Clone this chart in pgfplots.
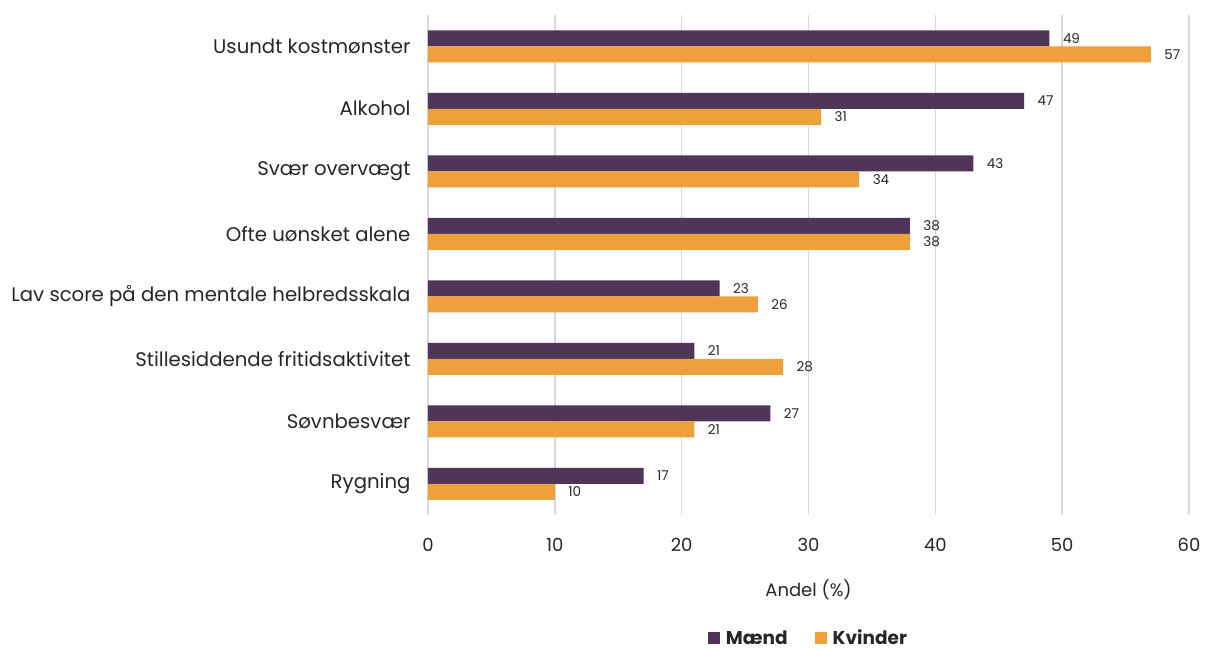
\documentclass[border=0pt]{standalone}
\usepackage{pgfplots}
\pgfplotsset{compat=1.18}
\usepackage{fontspec}
\setmainfont{Poppins}
\definecolor{maend}{HTML}{4E3559}
\definecolor{kvinder}{HTML}{EFA03A}
\definecolor{gridc}{HTML}{D9D9D9}
\definecolor{txt}{HTML}{262626}
\begin{document}
\begin{tikzpicture}
\begin{axis}[
  name=ax,
  at={(0,0)}, anchor=south west,
  scale only axis,
  width=761bp, height=500bp,
  xbar, bar width=16bp,
  xmin=0, xmax=60,
  ymin=-0.5, ymax=7.5,
  xtick={0,10,...,60},
  ytick={0,...,7},
  yticklabels={Rygning,Søvnbesvær,Stillesiddende fritidsaktivitet,Lav score på den mentale helbredsskala,Ofte uønsket alene,Svær overvægt,Alkohol,Usundt kostmønster},
  major tick length=0pt,
  axis line style={draw=none},
  xmajorgrids, grid style={gridc, line width=1.5bp},
  /pgf/number format/assume math mode=true,
  ticklabel style={font=\fontsize{18bp}{21bp}\selectfont, text=txt},
  yticklabel style={anchor=east, xshift=-14bp, font=\fontsize{19.7bp}{23bp}\selectfont},
  xticklabel style={anchor=center, yshift=-30bp},
  xlabel={Andel (\%)},
  xlabel style={at={(axis description cs:0.5,0)}, anchor=center, yshift=-75bp, font=\fontsize{18bp}{21bp}\selectfont, text=txt},
  nodes near coords,
  every node near coord/.append style={font=\fontsize{13.5bp}{15bp}\selectfont, text=txt, anchor=west, xshift=10bp},
  legend columns=-1,
  legend style={at={(axis description cs:0.5,0)}, anchor=center, yshift=-123bp, draw=none, font=\fontsize{18.5bp}{21bp}\selectfont\bfseries, text=txt,
    /tikz/every even column/.append style={column sep=25bp}},
  legend image code/.code={\fill[#1, draw=none] (0bp,-6bp) rectangle (12bp,6bp); \path (16bp,0bp);},
  clip=false,
]
\addplot[fill=maend, draw=none, bar shift=8bp] coordinates {
 (17,0) (27,1) (21,2) (23,3) (38,4) (43,5) (47,6) (49,7)};
\addlegendentry{Mænd}
\addplot[fill=kvinder, draw=none, bar shift=-8bp] coordinates {
 (10,0) (21,1) (28,2) (26,3) (38,4) (34,5) (31,6) (57,7)};
\addlegendentry{Kvinder}
\end{axis}
\pgfresetboundingbox
\path (-428bp,-134bp) rectangle (777bp,515bp);
\end{tikzpicture}
\end{document}
